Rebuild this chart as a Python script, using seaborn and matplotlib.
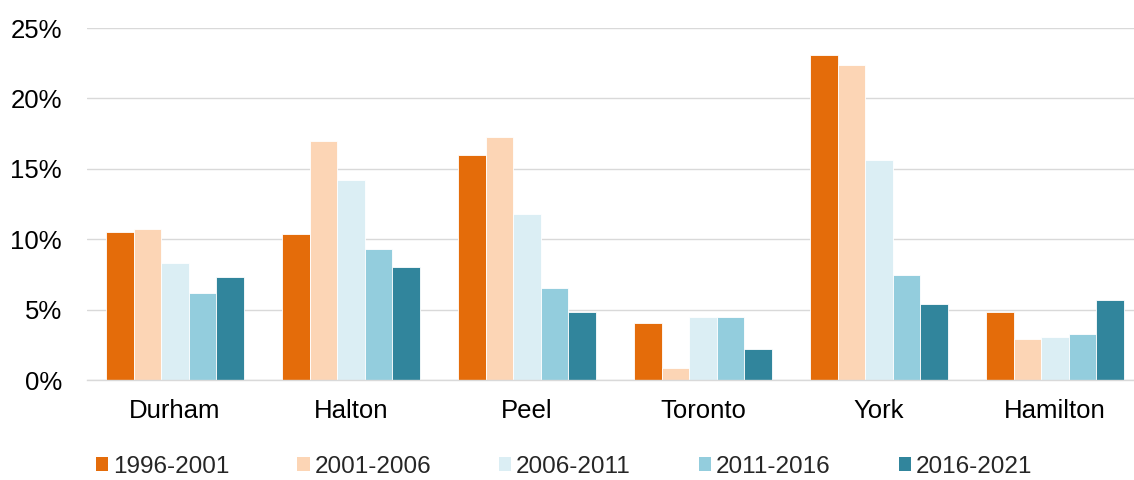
import matplotlib
matplotlib.use("Agg")
import matplotlib.pyplot as plt
import seaborn as sns
import pandas as pd
from matplotlib.patches import Patch
from matplotlib.ticker import FuncFormatter

regions = ["Durham", "Halton", "Peel", "Toronto", "York", "Hamilton"]
periods = ["1996-2001", "2001-2006", "2006-2011", "2011-2016", "2016-2021"]
v_1996_2001 = [10.5, 10.4, 16.0, 4.05, 23.1, 4.8]
v_2001_2006 = [10.7, 17.0, 17.25, 0.85, 22.4, 2.9]
v_2006_2011 = [8.3, 14.2, 11.8, 4.45, 15.6, 3.05]
v_2011_2016 = [6.2, 9.3, 6.5, 4.45, 7.45, 3.25]
v_2016_2021 = [7.3, 8.05, 4.8, 2.2, 5.4, 5.7]
colors = ["#E46C0A", "#FCD5B5", "#DBEEF4", "#93CDDD", "#31859C"]
yticks = [0, 5, 10, 15, 20, 25]

series = [v_1996_2001, v_2001_2006, v_2006_2011, v_2011_2016, v_2016_2021]
rows = []
for p, vals in zip(periods, series):
    for r, v in zip(regions, vals):
        rows.append({"region": r, "period": p, "value": v})
df = pd.DataFrame(rows)

sns.set_theme(style="white")
plt.rcParams["font.family"] = ["Liberation Sans", "DejaVu Sans"]

fig = plt.figure(figsize=(11.34, 4.8), dpi=100)
ax = fig.add_axes([87 / 1134, 100 / 480, (1134 - 87) / 1134, 352 / 480])

sns.barplot(data=df, x="region", y="value", hue="period", order=regions,
            hue_order=periods, palette=colors, saturation=1, width=0.78, dodge=True,
            edgecolor="white", linewidth=0.6, legend=False, ax=ax, errorbar=None)

ax.set_xlim(-0.5, -0.5 + 1047 / 176)
ax.set_ylim(0, 25)
ax.set_yticks(yticks)
ax.yaxis.set_major_formatter(FuncFormatter(lambda v, _: f"{v:.0f}%"))
ax.grid(axis="y", color="#D9D9D9", linewidth=1.0)
ax.set_axisbelow(True)
for s in ["top", "right", "left"]:
    ax.spines[s].set_visible(False)
ax.spines["bottom"].set_color("#D9D9D9")
ax.spines["bottom"].set_linewidth(1.0)
ax.tick_params(axis="both", length=0, labelsize=18.5, colors="#000000")
ax.tick_params(axis="x", pad=14)
ax.tick_params(axis="y", pad=18)
ax.set_xlabel("")
ax.set_ylabel("")

handles = [Patch(facecolor=c, edgecolor="none", label=p) for c, p in zip(colors, periods)]
fig.legend(handles=handles, loc="center", bbox_to_anchor=(564 / 1134, 1 - 467 / 480),
           ncol=5, frameon=False, fontsize=17.5, handlelength=0.5, handleheight=0.5,
           handletextpad=0.2, columnspacing=2.8, borderpad=0)

fig.savefig("out.png", dpi=100)
